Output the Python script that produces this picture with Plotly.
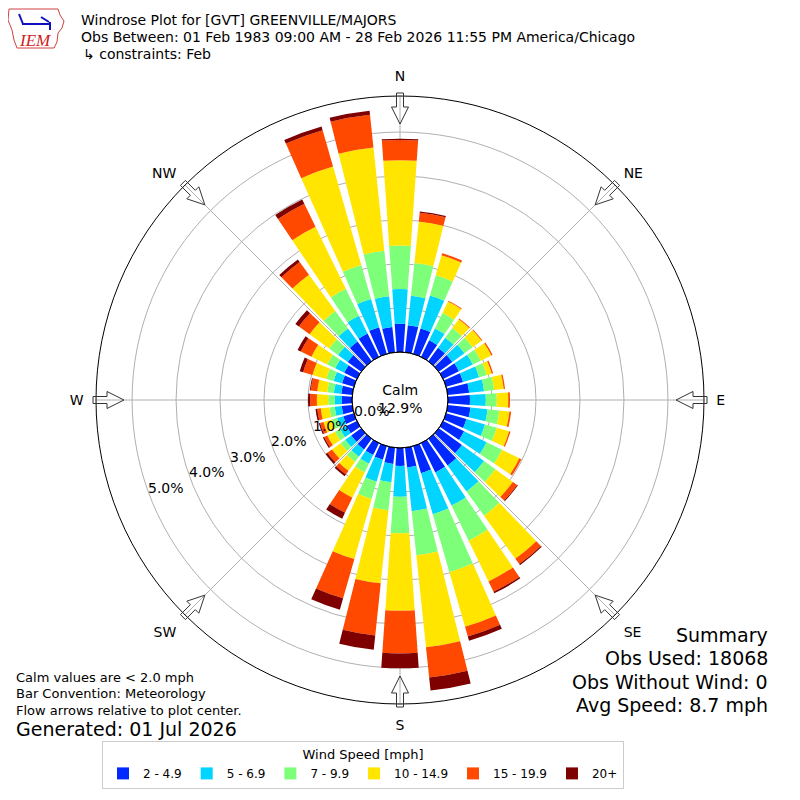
import math
import plotly.graph_objects as go

# ------------------------------------------------------------
# Data: percent of observations per direction and speed bin
# ------------------------------------------------------------
direcciones = [0, 10, 20, 30, 40, 50, 60, 70, 80, 90, 100, 110,
               120, 130, 140, 150, 160, 170, 180, 190, 200, 210, 220, 230,
               240, 250, 260, 270, 280, 290, 300, 310, 320, 330, 340, 350]

v_2_5 = [0.64, 0.62, 0.60, 0.42, 0.38, 0.38, 0.40, 0.40, 0.49, 0.50, 0.52, 0.48,
         0.53, 0.65, 0.75, 0.74, 0.64, 0.45, 0.41, 0.37, 0.32, 0.30, 0.30, 0.28,
         0.26, 0.25, 0.24, 0.23, 0.25, 0.28, 0.32, 0.38, 0.55, 0.59, 0.63, 0.58]
v_5_7 = [0.79, 0.67, 0.78, 0.30, 0.28, 0.34, 0.35, 0.38, 0.34, 0.36, 0.39, 0.44,
         0.57, 0.62, 0.73, 0.84, 0.97, 1.00, 0.70, 0.42, 0.52, 0.22, 0.20, 0.17,
         0.16, 0.15, 0.16, 0.16, 0.17, 0.20, 0.23, 0.27, 0.37, 0.45, 0.67, 0.70]
v_7_10 = [0.99, 0.75, 0.48, 0.39, 0.27, 0.23, 0.20, 0.18, 0.23, 0.25, 0.27, 0.28,
          0.39, 0.32, 0.68, 0.89, 1.37, 1.01, 0.83, 0.64, 0.41, 0.22, 0.15, 0.13,
          0.13, 0.12, 0.12, 0.15, 0.15, 0.17, 0.20, 0.25, 0.49, 0.68, 0.80, 1.04]
v_10_15 = [1.94, 0.95, 0.47, 0.29, 0.25, 0.25, 0.27, 0.12, 0.22, 0.26, 0.23, 0.29,
           0.44, 0.49, 1.21, 1.03, 1.29, 2.10, 1.76, 1.67, 1.42, 0.64, 0.25, 0.24,
           0.20, 0.20, 0.20, 0.26, 0.23, 0.33, 0.40, 0.55, 1.02, 1.57, 2.33, 2.36]
v_15_20 = [0.46, 0.20, 0.05, 0.02, 0.02, 0.02, 0.03, 0.03, 0.03, 0.04, 0.04, 0.03,
           0.05, 0.12, 0.15, 0.26, 0.23, 0.69, 0.97, 1.19, 0.93, 0.38, 0.10, 0.13,
           0.08, 0.08, 0.08, 0.15, 0.15, 0.22, 0.27, 0.30, 0.36, 0.58, 0.86, 0.75]
v_20 = [0.03, 0.03, 0.00, 0.00, 0.00, 0.00, 0.00, 0.00, 0.00, 0.00, 0.00, 0.00,
        0.00, 0.02, 0.03, 0.04, 0.10, 0.30, 0.34, 0.33, 0.27, 0.15, 0.05, 0.05,
        0.03, 0.03, 0.04, 0.05, 0.02, 0.08, 0.08, 0.10, 0.07, 0.11, 0.09, 0.09]

nombres = ["2 - 4.9", "5 - 6.9", "7 - 9.9", "10 - 14.9", "15 - 19.9", "20+"]
series = [v_2_5, v_5_7, v_7_10, v_10_15, v_15_20, v_20]
colores = ["#0028ff", "#00d4ff", "#7dff7a", "#ffe500", "#ff4800", "#7f0000"]

anillos = [0, 1, 2, 3, 4, 5]
anillos_txt = ["0.0%", "1.0%", "2.0%", "3.0%", "4.0%", "5.0%"]
rumbos = [0, 45, 90, 135, 180, 225, 270, 315]
rumbos_txt = ["N", "NE", "E", "SE", "S", "SW", "W", "NW"]

FONT = "DejaVu Sans"
# plot geometry (pixels in the final page)
CX, CY = 400, 400        # centre of the rose
R_OUT = 304              # outer circle
R_CALM = 48              # calm circle (0 %)
RMAX = 5.82              # percent at the outer circle
PX_PCT = (R_OUT - R_CALM) / RMAX
OFF = 8                  # browser body margin

# ------------------------------------------------------------
# Figure
# ------------------------------------------------------------
fig = go.Figure()
for nombre, valores, color in zip(nombres, series, colores):
    fig.add_trace(go.Barpolar(
        r=valores, theta=direcciones, width=8, name=nombre,
        marker=dict(color=color, line=dict(width=0)),
    ))


def px(x, y):
    # page pixel -> paper (800x800 figure, no margins, shifted by body margin)
    return (x - OFF) / 800, 1 - (y - OFF) / 800


def polar_px(r, ang):
    t = math.radians(ang)
    return CX + r * math.sin(t), CY - r * math.cos(t)


# hollow flow arrows around the outer ring
shapes = []
forma = [(307, -3.5), (293, -3.5), (293, -8.5), (276, 0),
         (293, 8.5), (293, 3.5), (307, 3.5)]
for ang in rumbos:
    t = math.radians(ang)
    pts = []
    for r, w in forma:
        x = CX + r * math.sin(t) + w * math.cos(t)
        y = CY - r * math.cos(t) + w * math.sin(t)
        pts.append(px(x, y))
    path = "M " + " L ".join(f"{a:.5f},{b:.5f}" for a, b in pts) + " Z"
    shapes.append(dict(type="path", xref="paper", yref="paper", path=path,
                       line=dict(color="#333333", width=1),
                       fillcolor="rgba(0,0,0,0)", layer="above"))

# calm circle
shapes.append(dict(type="circle", xref="paper", yref="paper",
                   x0=px(CX - R_CALM, 0)[0], x1=px(CX + R_CALM, 0)[0],
                   y0=px(0, CY + R_CALM)[1], y1=px(0, CY - R_CALM)[1],
                   line=dict(color="black", width=1), layer="above"))

# IEM logo (rough outline)
logo = [(9, 9), (58, 9), (60, 15), (64, 21), (62, 28), (58, 33), (57, 42),
        (54, 48), (17, 48), (14, 40), (12, 30), (8, 20)]
pts = [px(x, y) for x, y in logo]
shapes.append(dict(type="path", xref="paper", yref="paper",
                   path="M " + " L ".join(f"{a:.5f},{b:.5f}" for a, b in pts) + " Z",
                   line=dict(color="#d04040", width=1), fillcolor="rgba(0,0,0,0)"))
for x0, y0, x1, y1 in [(22, 24, 50, 24), (19, 14, 23, 24), (41, 17, 49, 22), (50, 22, 50, 30)]:
    a0, b0 = px(x0, y0)
    a1, b1 = px(x1, y1)
    shapes.append(dict(type="line", xref="paper", yref="paper",
                       x0=a0, y0=b0, x1=a1, y1=b1,
                       line=dict(color="#1010c0", width=2)))

anotaciones = []


def texto(t, x, y, size=14, anchor="left"):
    a, b = px(x, y)
    anotaciones.append(dict(text=t, x=a, y=b, xref="paper", yref="paper",
                            xanchor=anchor, yanchor="middle", showarrow=False,
                            font=dict(family=FONT, size=size, color="black")))


texto("Windrose Plot for [GVT] GREENVILLE/MAJORS", 79, 20)
texto("Obs Between: 01 Feb 1983 09:00 AM - 28 Feb 2026 11:55 PM America/Chicago", 79, 37)
texto("↳ constraints: Feb", 81, 54)
texto("Calm values are < 2.0 mph", 14, 677, 13)
texto("Bar Convention: Meteorology", 14, 693, 13)
texto("Flow arrows relative to plot center.", 14, 710, 13)
texto("Generated: 01 Jul 2026", 14, 729, 19)
texto("Summary", 770, 635, 19, "right")
texto("Obs Used: 18068", 770, 658, 19, "right")
texto("Obs Without Wind: 0", 770, 682, 19, "right")
texto("Avg Speed: 8.7 mph", 770, 705, 19, "right")
texto("Calm<br>12.9%", CX, CY - 1, 14, "center")

# radial ring labels, just inside each ring along WSW
for v, t in zip(anillos, anillos_txt):
    x, y = polar_px(R_CALM + v * PX_PCT - 18, 249.5)
    texto(t, x, y, 14, "center")

a, b = px(35, 40)
anotaciones.append(dict(text="<i>IEM</i>", x=a, y=b, xref="paper", yref="paper",
                        showarrow=False, xanchor="center", yanchor="middle",
                        font=dict(family="Liberation Serif", size=17, color="#d02020")))

cx, cy = px(CX, CY)
hr = R_OUT / 800
fig.update_layout(
    width=800, height=800,
    margin=dict(l=0, r=0, t=0, b=0),
    paper_bgcolor="white",
    font=dict(family=FONT, size=14, color="black"),
    polar=dict(
        domain=dict(x=[cx - hr, cx + hr], y=[cy - hr, cy + hr]),
        hole=R_CALM / R_OUT,
        bgcolor="white",
        barmode="stack",
        radialaxis=dict(range=[0, RMAX], tickmode="array", tickvals=anillos,
                        showticklabels=False, showline=False, ticks="",
                        gridcolor="#b0b0b0", gridwidth=1, layer="above traces"),
        angularaxis=dict(direction="clockwise", rotation=90, tickmode="array",
                         tickvals=rumbos, ticktext=rumbos_txt,
                         showline=True, linecolor="black", linewidth=1,
                         gridcolor="#b0b0b0", gridwidth=1, layer="above traces",
                         ticks="outside", ticklen=9, tickcolor="rgba(0,0,0,0)",
                         tickfont=dict(family=FONT, size=14)),
    ),
    legend=dict(orientation="h", x=px(363, 0)[0], xanchor="center",
                y=px(0, 741)[1], yanchor="top",
                bordercolor="#cccccc", borderwidth=1, itemwidth=30,
                title=dict(text="Wind Speed [mph]", side="top center",
                           font=dict(family=FONT, size=13)),
                font=dict(family=FONT, size=12), traceorder="normal"),
    shapes=shapes,
    annotations=anotaciones,
)

fig.write_html("out.html")
